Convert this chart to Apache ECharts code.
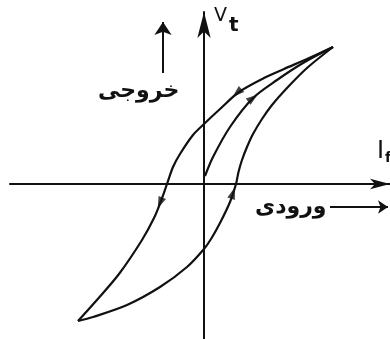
<!DOCTYPE html>
<html>
<head>
<meta charset="utf-8">
<script src="https://cdn.jsdelivr.net/npm/echarts@6/dist/echarts.min.js"></script>
<style>
html,body{margin:0;padding:0;background:#fff;}
#chart{width:390px;height:339px;}
</style>
</head>
<body>
<div id="chart"></div>
<script>
// Hysteresis loop (field current I_f vs terminal voltage V_t, arbitrary units)
const descendingX = [12.9, 10.3, 8.0, 6.0, 3.5, 1.6, 0.0, -1.1, -2.4, -3.1, -3.7, -4.3, -5.0, -6.2, -8.5, -10.8, -12.6];
const descendingY = [13.7, 12.5, 11.5, 10.6, 9.2, 7.5, 6.0, 4.9, 3.0, 1.7, 0.0, -1.7, -3.4, -5.6, -9.0, -11.7, -13.7];
const ascendingX = [-12.6, -11.1, -7.7, -4.4, -1.7, 0.0, 0.7, 1.6, 2.6, 3.2, 3.45, 3.8, 4.3, 4.9, 5.8, 6.8, 8.3, 10.3, 12.9];
const ascendingY = [-13.7, -13.3, -12.1, -10.3, -8.3, -6.5, -5.5, -3.9, -1.8, 0.0, 1.2, 2.4, 3.7, 5.0, 6.5, 7.9, 9.6, 11.6, 13.7];
const initialX = [0.1, 0.9, 2.6, 4.9, 7.3, 9.9, 12.9];
const initialY = [0.8, 2.7, 5.7, 8.6, 10.4, 12.1, 13.7];
// arrowheads on the curves: position and which curve they sit on
const arrowX = [3.3, -4.4, 4.9, 2.9];
const arrowY = [9.1, -1.9, 8.6, -0.9];
const arrowCurve = ['descending', 'descending', 'initial', 'ascending'];
// annotation arrows next to the labels
const outputArrowX = [-4.1, -4.1];
const outputArrowY = [11.1, 16.2];
const inputArrowX = [12.6, 18.4];
const inputArrowY = [-2.3, -2.3];
const labels = { output: 'خروجی', input: 'ورودی', yName: 'V', ySub: 't', xName: 'I', xSub: 'f' };

const INK = '#111';
const zip = (xs, ys) => xs.map((x, i) => [x, ys[i]]);
const curves = {
  descending: zip(descendingX, descendingY),
  ascending: zip(ascendingX, ascendingY),
  initial: zip(initialX, initialY)
};

const chart = echarts.init(document.getElementById('chart'), null, { renderer: 'canvas' });

function axis(min, max, size) {
  return {
    type: 'value', min: min, max: max,
    splitLine: { show: false }, axisTick: { show: false }, axisLabel: { show: false },
    axisLine: { show: true, onZero: true, symbol: ['none', 'arrow'], symbolSize: size,
      lineStyle: { color: INK, width: 2 } }
  };
}

function curveSeries(name) {
  return {
    name: name, type: 'line', data: curves[name], smooth: 0.3, symbol: 'none',
    lineStyle: { color: INK, width: 2.2 }, silent: true, animation: false, z: 3
  };
}

const baseOption = {
  animation: false,
  grid: { left: 10, top: 12, right: 0, bottom: 0 },
  xAxis: axis(-19.4, 18.6, [8, 20]),
  yAxis: axis(-15.5, 17.2, [10, 26]),
  series: [
    curveSeries('descending'),
    curveSeries('ascending'),
    curveSeries('initial'),
    {
      name: 'arrows', type: 'scatter', data: [], symbol: 'triangle', symbolSize: [8, 12],
      itemStyle: { color: INK }, silent: true, z: 5
    },
    {
      name: 'annotations', type: 'lines', coordinateSystem: 'cartesian2d',
      symbol: ['none', 'arrow'], symbolSize: 12,
      lineStyle: { color: INK, width: 2, opacity: 1, curveness: 0 },
      data: [
        { coords: zip(outputArrowX, outputArrowY), symbolSize: 13 },
        { coords: zip(inputArrowX, inputArrowY), symbolSize: 10 }
      ],
      silent: true, z: 4
    }
  ],
  graphic: [
    { type: 'text', x: 98, y: 80,
      style: { text: labels.output, font: 'bold 22px "DejaVu Sans"', fill: INK } },
    { type: 'text', x: 255, y: 196,
      style: { text: labels.input, font: 'bold 22px "DejaVu Sans"', fill: INK } },
    { type: 'text', x: 214, y: 7, style: {
        text: '{a|' + labels.yName + '}{b|' + labels.ySub + '}', fill: INK,
        rich: { a: { font: '19px "DejaVu Sans"', fill: INK, verticalAlign: 'top' },
                b: { font: 'bold 20px "DejaVu Sans"', fill: INK, padding: [9, 0, 0, 2] } } } },
    { type: 'text', x: 377, y: 139, style: {
        text: '{a|' + labels.xName + '}{b|' + labels.xSub + '}', fill: INK,
        rich: { a: { font: '24px "DejaVu Sans"', fill: INK },
                b: { font: 'bold 14px "DejaVu Sans"', fill: INK, padding: [12, 0, 0, 1] } } } }
  ]
};

chart.setOption(baseOption);

// orient each arrowhead along its curve (loop direction) using pixel coordinates
function arrowItems() {
  return arrowX.map((x, k) => {
    const y = arrowY[k];
    const pts = curves[arrowCurve[k]].map(p => chart.convertToPixel({ gridIndex: 0 }, p));
    const me = chart.convertToPixel({ gridIndex: 0 }, [x, y]);
    let best = 0, bd = Infinity;
    for (let i = 0; i < pts.length - 1; i++) {
      const mx = (pts[i][0] + pts[i + 1][0]) / 2, my = (pts[i][1] + pts[i + 1][1]) / 2;
      const d = (mx - me[0]) ** 2 + (my - me[1]) ** 2;
      if (d < bd) { bd = d; best = i; }
    }
    const dx = pts[best + 1][0] - pts[best][0];
    const dy = -(pts[best + 1][1] - pts[best][1]);
    const ang = Math.atan2(dy, dx) * 180 / Math.PI;
    return { value: [x, y], symbolRotate: ang - 90 };
  });
}

chart.setOption({ series: [{}, {}, {}, { data: arrowItems() }, {}] });
</script>
</body>
</html>
